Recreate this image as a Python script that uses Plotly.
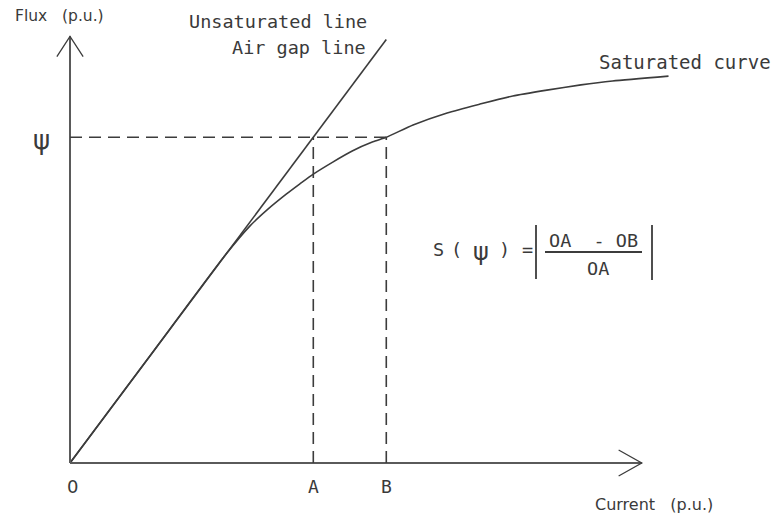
import plotly.graph_objects as go

# Magnetisation characteristic (per-unit): air-gap line and saturated curve
unsat_current = [0.0, 1.3]
unsat_flux = [0.0, 1.3]

sat_current = [0.0, 0.32, 0.64, 0.74, 0.81, 0.89, 0.945, 1.0, 1.08, 1.16,
               1.245, 1.3, 1.41, 1.55, 1.685, 1.82, 1.96, 2.1, 2.23, 2.46]
sat_flux = [0.0, 0.32, 0.64, 0.728, 0.777, 0.826, 0.857, 0.887, 0.924, 0.958,
            0.986, 1.0, 1.038, 1.075, 1.102, 1.127, 1.145, 1.161, 1.173, 1.188]

psi_level = 1.0      # flux level Ψ
point_a = 1.0        # current on the air-gap line at Ψ
point_b = 1.3        # current on the saturated curve at Ψ
x_axis_end = 2.35
y_axis_end = 1.31

W, H = 777, 519
X_RANGE = [-0.2877, 2.9059]
Y_RANGE = [-0.1719, 1.4216]

LINE = "#3c3c3c"
AXIS = "#5a5a5a"
TEXT = "#3a3a3a"
MONO = "DejaVu Sans Mono"
SANS = "DejaVu Sans"
NB = "\u00a0"


def px(x):
    return x / W


def py(y):
    return 1 - y / H


fig = go.Figure()
fig.add_trace(go.Scatter(x=unsat_current, y=unsat_flux, mode="lines",
                         line=dict(color=LINE, width=1.6), hoverinfo="skip"))
fig.add_trace(go.Scatter(x=sat_current, y=sat_flux, mode="lines",
                         line=dict(color=LINE, width=1.6, shape="spline", smoothing=0.6),
                         hoverinfo="skip"))

shapes = []
# axes with open arrowheads
shapes.append(dict(type="line", x0=0, y0=0, x1=x_axis_end, y1=0,
                   line=dict(color=AXIS, width=2.2)))
shapes.append(dict(type="line", x0=0, y0=0, x1=0, y1=y_axis_end,
                   line=dict(color=AXIS, width=2.0)))
xa_dx, xa_dy = 0.095, 0.04
shapes.append(dict(type="path",
                   path=f"M {x_axis_end - xa_dx} {xa_dy} L {x_axis_end} 0 L {x_axis_end - xa_dx} {-xa_dy}",
                   line=dict(color=LINE, width=1.3)))
ya_dx, ya_dy = 0.054, 0.062
shapes.append(dict(type="path",
                   path=f"M {-ya_dx} {y_axis_end - ya_dy} L 0 {y_axis_end} L {ya_dx} {y_axis_end - ya_dy}",
                   line=dict(color=LINE, width=1.3)))

# dashed construction lines at Ψ, A and B
dash = dict(color=LINE, width=1.6, dash="12px,7px")
shapes.append(dict(type="line", x0=0, y0=psi_level, x1=point_b, y1=psi_level, line=dash))
shapes.append(dict(type="line", x0=point_a, y0=0, x1=point_a, y1=psi_level, line=dash))
shapes.append(dict(type="line", x0=point_b, y0=0, x1=point_b, y1=psi_level, line=dash))

# absolute-value bars and fraction rule of the saturation factor
bar = dict(color=LINE, width=1.8)
shapes.append(dict(type="line", xref="paper", yref="paper",
                   x0=px(536), y0=py(225), x1=px(536), y1=py(279), line=bar))
shapes.append(dict(type="line", xref="paper", yref="paper",
                   x0=px(652), y0=py(225), x1=px(652), y1=py(280), line=bar))
shapes.append(dict(type="line", xref="paper", yref="paper",
                   x0=px(545), y0=py(252), x1=px(642), y1=py(252), line=bar))

annotations = []


def note(text, x, y, size, family=MONO, xanchor="center", xref="paper", yref="paper"):
    annotations.append(dict(text=text, x=x, y=y, xref=xref, yref=yref,
                            xanchor=xanchor, yanchor="middle", showarrow=False,
                            font=dict(family=family, size=size, color=TEXT)))


note(f"Flux{NB}{NB}{NB}(p.u.)", px(13), py(16), 15.5, family=SANS, xanchor="left")
note(f"Current{NB}{NB}{NB}(p.u.)", px(593), py(504), 16, family=SANS, xanchor="left")
note("Unsaturated line", px(369), py(22), 18.5, xanchor="right")
note("Air gap line", px(368), py(47), 18.5, xanchor="right")
note("Saturated curve", px(597), py(62), 19, xanchor="left")
note("ψ", px(41), py(140), 26, family=SANS)
note("0", px(72), py(486), 18, family=SANS)
note("A", point_a, py(486), 18, xref="x")
note("B", point_b, py(486), 18, xref="x")

# S(Ψ) = |(OA - OB) / OA|
note("S", px(438), py(250), 18.5)
note("(", px(456), py(250), 18.5)
note("ψ", px(481), py(252), 24, family=SANS)
note(")", px(505), py(250), 18.5)
note("=", px(527), py(250), 18.5)
note(f"OA{NB}{NB}-{NB}OB", px(593), py(240), 18.5)
note("OA", px(598), py(268), 18.5)

fig.update_layout(
    width=W, height=H,
    margin=dict(l=0, r=0, t=0, b=0),
    paper_bgcolor="white", plot_bgcolor="white",
    showlegend=False,
    xaxis=dict(range=X_RANGE, visible=False, fixedrange=True),
    yaxis=dict(range=Y_RANGE, visible=False, fixedrange=True),
    shapes=shapes,
    annotations=annotations,
)

fig.write_html("out.html")
